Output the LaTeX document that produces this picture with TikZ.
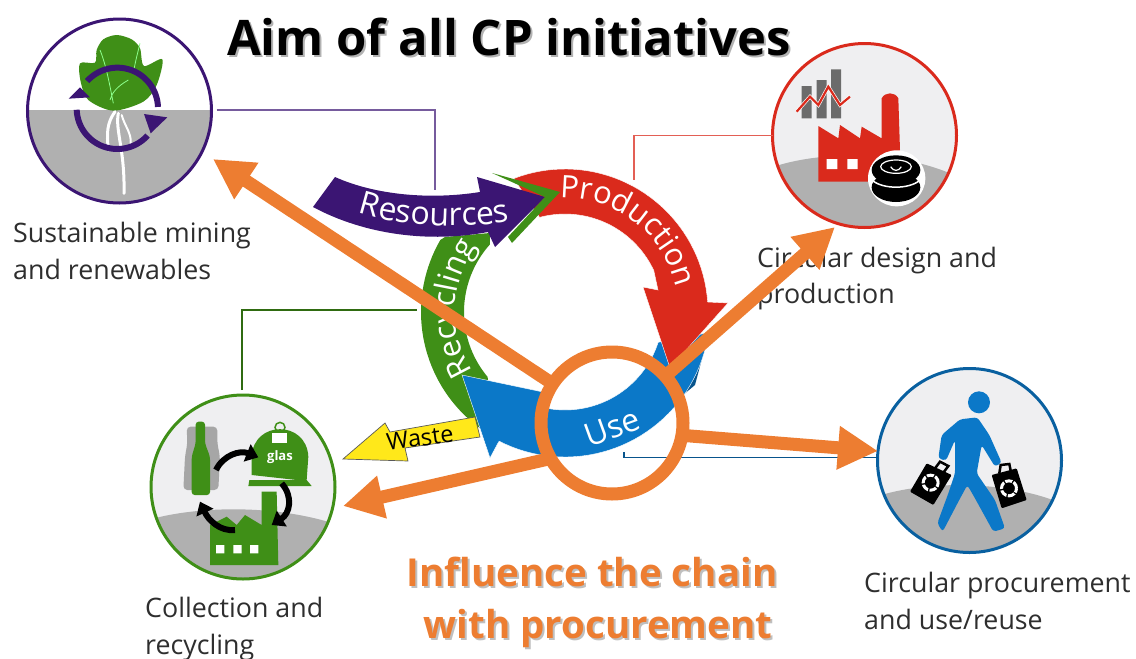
\documentclass[tikz,border=0pt]{standalone}
\usepackage{fontspec}
\setmainfont{Open Sans}
\usetikzlibrary{arrows.meta,decorations.text}
\definecolor{cpurple}{HTML}{3B1573}
\definecolor{cgreen}{HTML}{3F8F17}
\definecolor{cred}{HTML}{DA2A1C}
\definecolor{cblue}{HTML}{0B78C8}
\definecolor{corange}{HTML}{ED7D31}
\definecolor{cyellow}{HTML}{FFE81A}
\definecolor{cground}{HTML}{B0B0B0}
\definecolor{csky}{HTML}{EFEFF1}
\definecolor{ctext}{HTML}{2E2E2E}
\tikzset{
  icon/.style={circle,minimum size=184pt,inner sep=0pt,outer sep=0pt,line width=3pt,draw=#1},
  lbl/.style={anchor=base west,font=\fontsize{26.8}{30}\selectfont,text=ctext,inner sep=0pt},
  thinline/.style={line width=1.1pt,draw=#1},
  orangearrow/.style={draw=corange,line width=13pt,-{Triangle[length=40pt,width=41pt]}},
  zoomed/.style={x=.33333pt,y=-.33333pt,shift={#1}},
  flowtext/.style 2 args={decorate,decoration={text along path,text align=center,text={|\fontsize{#1}{#1}\selectfont\color{white}|#2}}},
  bigorange/.style={font=\bfseries\fontsize{38.5}{48}\selectfont,text=corange,inner sep=0pt},
  blackarrow/.style={draw=black,line width=6pt,-{Triangle[length=12pt,width=18pt]}},
  rg/.style={domain=#1,samples=40,variable=\t}
}
\begin{document}
\begin{tikzpicture}[x=1pt,y=-1pt]
\useasboundingbox (0,0) rectangle (1136,659);
% Flow ring
\fill[cgreen] (445,237) -- plot[rg=210:118] ({565+144*cos(\t)},{312+144*sin(\t)}) -- (490,400) -- plot[rg=140:222] ({565+101*cos(\t)},{312+101*sin(\t)}) -- (490,233) -- cycle;
\fill[cyellow,draw=black!65,line width=.7pt] (343,459) -- (385,423) -- (390,432) -- (475,417) -- (480,437) -- (405,448) -- (408,461) -- cycle;
\fill[cblue!70!black] (690,378) -- (707,340) -- (695,385) -- (683,395) -- cycle;
\fill[cblue,draw=white,line width=.4pt] (462,375) -- (543,392) -- plot[rg=104:18] ({565+98*cos(\t)},{312+98*sin(\t)}) -- (707,333) -- plot[rg=8:117] ({565+145*cos(\t)},{312+145*sin(\t)}) -- (498,443) -- (490,458) -- cycle;
\fill[cred,draw=white,line width=.4pt] plot[rg=-111:-4] ({565+143*cos(\t)},{312+143*sin(\t)}) -- (728,303) -- (670,368) -- (643,287) -- (658,290) -- plot[rg=-25:-105] ({565+98*cos(\t)},{312+98*sin(\t)}) -- cycle;
\fill[cpurple] (335,177) .. controls (375,195) and (430,200) .. (480,192) -- (477,177) -- (545,197) -- (495,247) -- (488,232) .. controls (430,243) and (365,235) .. (313,207) -- cycle;
\fill[cgreen] (492,173) -- (560,192) -- (512,243) -- (508,237) -- (545,197) -- cycle;
% Flow labels
\path[flowtext={32}{Resources}] (356,212) .. controls (395,226) and (465,230) .. (512,221);
\path[flowtext={31}{Production}] plot[rg=-92:-13] ({565+114*cos(\t)},{312+114*sin(\t)});
\path[flowtext={31}{Recycling}] plot[rg=146:218] ({565+110*cos(\t)},{312+110*sin(\t)});
\node[rotate=20,text=white,font=\fontsize{32}{34}\selectfont,inner sep=0pt] (uselabel) at (612,427) {Use};
\node[rotate=8,text=black,font=\fontsize{23.5}{25}\selectfont,inner sep=0pt] (wastelabel) at (420,438) {Waste};
% Icon: resources
\begin{scope}
\clip (119.5,111) circle[radius=92pt];
\fill[white] (20,10) rectangle (220,110);
\fill[cground] (20,110) rectangle (220,210);
\end{scope}
\begin{scope}[zoomed={(0pt,0pt)}]
\fill[cgreen] plot[smooth cycle,tension=.5] coordinates {(350,105) (310,118) (290,150) (285,188) (240,190) (242,245) (265,300) (340,332) (430,305) (470,255) (487,178) (432,198) (420,145) (395,118)};
\draw[green!45!white,line width=.8pt] (300,150) .. controls (320,200) and (330,260) .. (340,310) (385,240) .. controls (350,260) and (335,280) .. (330,300) (420,130) .. controls (410,170) and (405,190) .. (400,220);
\draw[white,line width=3pt,line cap=round] (345,335) .. controls (320,370) and (320,400) .. (325,450);
\draw[white,line width=3pt,line cap=round] (355,340) .. controls (345,390) and (375,450) .. (372,580);
\draw[white,line width=2pt,line cap=round] (365,345) .. controls (375,380) and (395,400) .. (392,430);
\draw[cpurple,line width=6pt] plot[domain=222:358,samples=40,variable=\t] ({352+122*cos(\t)},{325+122*sin(\t)});
\fill[cpurple] (432,342) -- (502,352) -- (452,400) -- cycle;
\draw[cpurple,line width=6pt] plot[domain=42:178,samples=40,variable=\t] ({352+122*cos(\t)},{325+122*sin(\t)});
\fill[cpurple] (240,262) -- (206,296) -- (270,292) -- cycle;
\end{scope}
\node[icon=cpurple] (resicon) at (119.5,111) {};
% Icon: production
\begin{scope}
\clip (864.5,135.5) circle[radius=92pt];
\fill[csky] (770,40) rectangle (960,230);
\fill[cground] (770,168) .. controls (820,150) and (905,150) .. (960,178) -- (960,230) -- (770,230) -- cycle;
\end{scope}
\begin{scope}[zoomed={(760pt,-50pt)}]
\fill[black!58] (125,108) rectangle (155,205) (170,90) rectangle (200,205) (213,58) rectangle (243,205);
\draw[white,line width=3.5pt] (110,185) -- (150,140) -- (175,165) -- (205,110) -- (240,165) -- (270,140);
\draw[cred,line width=2.2pt] (110,185) -- (150,140) -- (175,165) -- (205,110) -- (240,165) -- (270,140);
\fill[cred] (175,395) -- (175,228) -- (235,265) -- (240,225) -- (300,265) -- (305,230) -- (365,265) -- (365,145) .. controls (375,125) and (405,125) .. (415,145) -- (420,300) -- (335,395) -- cycle;
\fill[white] (200,327) rectangle (232,357) (262,327) rectangle (293,357);
\fill[white] (410,385) ellipse[x radius=86,y radius=84];
\fill[black] (408,412) ellipse[x radius=73,y radius=44];
\fill[black] (408,360) ellipse[x radius=73,y radius=44];
\draw[white,line width=1.5pt] (338,392) .. controls (370,418) and (446,418) .. (478,392);
\draw[white,line width=1.2pt] (408,350) ellipse[x radius=46,y radius=20];
\draw[white,line width=1.2pt] (392,350) .. controls (400,365) and (416,365) .. (424,350);
\end{scope}
\node[icon=cred] (prodicon) at (864.5,135.5) {};
% Icon: use
\begin{scope}
\clip (969.5,460.5) circle[radius=92pt];
\fill[csky] (875,365) rectangle (1065,555);
\fill[cground] (875,497) .. controls (925,480) and (1010,480) .. (1065,505) -- (1065,555) -- (875,555) -- cycle;
\end{scope}
\begin{scope}[zoomed={(860pt,-360pt)}]
\fill[cblue] (357,127) circle[radius=11pt];
\fill[cblue,rounded corners=3pt] (300,178) -- (352,172) -- (388,225) -- (425,308) -- (405,320) -- (365,255) -- (350,340) -- (405,420) -- (435,505) -- (400,515) -- (345,415) -- (322,375) -- (295,425) -- (248,515) -- (232,490) -- (265,400) -- (285,340) -- (285,240) -- (258,302) -- (235,295) -- (245,225) -- cycle;
\fill[black,rounded corners=1pt] (200,310) -- (275,345) -- (220,435) -- (150,395) -- cycle;
\draw[black,line width=2.5pt] (225,325) -- (240,305) -- (265,318) -- (250,338);
\fill[black,rounded corners=1pt] (395,345) -- (470,325) -- (500,420) -- (425,445) -- cycle;
\draw[black,line width=2.5pt] (418,340) -- (422,315) -- (448,312) -- (452,332);
\draw[white,line width=3pt,dash pattern=on 7pt off 1.5pt] (212,368) circle[radius=7.5pt] (447,385) circle[radius=7.5pt];
\end{scope}
\node[icon=cblue!80!black] (useicon) at (969.5,460.5) {};
% Icon: recycling
\begin{scope}
\clip (243,487) circle[radius=92pt];
\fill[csky] (148,390) rectangle (338,582);
\fill[cground] (148,520) .. controls (200,505) and (280,505) .. (338,525) -- (338,582) -- (148,582) -- cycle;
\end{scope}
\begin{scope}[zoomed={(130pt,-400pt)}]
\fill[black!35,rounded corners=4pt] (170,80) -- (262,80) -- (262,130) -- (270,170) -- (265,270) -- (160,270) -- (165,170) -- (172,130) -- cycle;
\fill[cgreen,rounded corners=3pt] (197,65) -- (225,65) -- (225,130) -- (240,170) -- (240,285) -- (185,285) -- (185,170) -- (197,130) -- cycle;
\fill[cgreen] (365,225) -- (365,170) .. controls (370,60) and (530,60) .. (535,170) -- (530,240) -- (545,258) -- (355,258) -- (358,240) -- (500,240) -- (365,225) -- cycle;
\draw[cgreen,line width=1.5pt] (450,82) circle[radius=5pt];
\fill[white] (425,100) rectangle (470,130);
\node[text=white,font=\bfseries\fontsize{13}{14}\selectfont,inner sep=0pt] (glaslabel) at (450,170) {glas};
\fill[cgreen] (240,495) -- (240,375) -- (290,350) -- (320,375) -- (345,345) -- (395,375) -- (395,275) -- (440,275) -- (445,495) -- cycle;
\fill[white] (258,435) rectangle (283,460) (310,435) rectangle (335,460) (360,435) rectangle (385,460);
\draw[blackarrow] (258,210) .. controls (280,165) and (330,150) .. (385,172);
\draw[blackarrow] (455,250) .. controls (490,290) and (480,340) .. (425,375);
\draw[blackarrow] (315,390) .. controls (270,395) and (235,360) .. (210,305);
\end{scope}
\node[icon=cgreen] (recicon) at (243,487) {};
% Labels
\node[lbl] (l1a) at (13,242) {Sustainable mining};
\node[lbl] (l1b) at (13,279) {and renewables};
\node[lbl] (l2a) at (757,267) {Circular design and};
\node[lbl] (l2b) at (757,303) {production};
\node[lbl] (l3a) at (864,592) {Circular procurement};
\node[lbl] (l3b) at (864,629) {and use/reuse};
\node[lbl] (l4a) at (145,617) {Collection and};
\node[lbl] (l4b) at (145,654) {recycling};
% Thin connectors
\coordinate (resend) at (435,190);
\coordinate (prodend) at (634,180);
\coordinate (recend) at (417,310);
\coordinate (useend) at (624,452);
\draw[thinline=cpurple!70!white] (resicon.east) ++(5,-1) -| (resend);
\draw[thinline=cred!75!white] (prodicon.west) -| (prodend);
\draw[thinline=cgreen!75!black] (recicon.north) ++(-1,-5) |- (recend);
\draw[thinline=cblue!70!black] (useicon.west) ++(0,-3) -| (useend);
% Orange hub and arrows
\node[circle,draw=corange,line width=13pt,minimum size=142pt,inner sep=0pt,outer sep=0pt] (hub) at (612,423) {};
\coordinate (tipres) at (213,159);
\coordinate (tipprod) at (835,227);
\coordinate (tipuse) at (878,451);
\coordinate (tiprec) at (343,506);
\draw[orangearrow] (hub) -- (tipres);
\draw[orangearrow] (hub) -- (tipprod);
\draw[orangearrow] (hub.-10) -- (tipuse);
\draw[orangearrow] (hub.210) -- (tiprec);
% Titles
\node[font=\bfseries\fontsize{49}{56}\selectfont,text=black!30,inner sep=0pt] (titleshadow) at (511,39) {Aim of all CP initiatives};
\node[font=\bfseries\fontsize{49}{56}\selectfont,text=black,inner sep=0pt] (title) at (509,37) {Aim of all CP initiatives};
\node[bigorange,text=black!25] (inflA) at (594,574) {Influence the chain};
\node[bigorange] (inflB) at (592,572) {Influence the chain};
\node[bigorange,text=black!25] (withA) at (600,630) {with procurement};
\node[bigorange] (withB) at (598,628) {with procurement};
\end{tikzpicture}
\end{document}
